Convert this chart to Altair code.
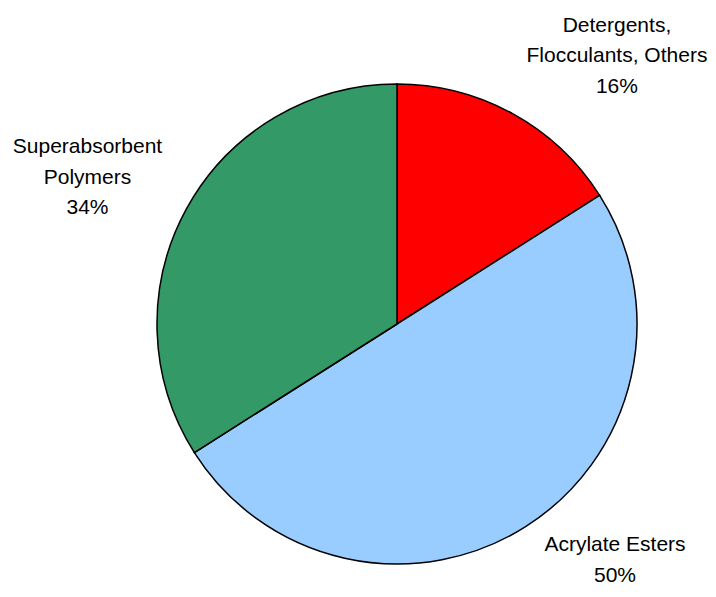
import altair as alt
import pandas as pd

categories = ["Detergents, Flocculants, Others", "Acrylate Esters", "Superabsorbent Polymers"]
label_lines = ["Detergents,\nFlocculants, Others", "Acrylate Esters", "Superabsorbent\nPolymers"]
shares = [16, 50, 34]
colors = ["#FF0000", "#99CCFF", "#339966"]

df = pd.DataFrame({
    "category": categories,
    "value": shares,
    "idx": list(range(len(categories))),
    "label": [f"{l}\n{v}%" for l, v in zip(label_lines, shares)],
})

CX, CY = 389, 316
R = 240

base = alt.Chart(df).encode(
    theta=alt.Theta("value:Q", stack=True),
    order=alt.Order("idx:Q"),
    x=alt.value(CX),
    y=alt.value(CY),
)

arcs = base.mark_arc(outerRadius=R, stroke="black", strokeWidth=1.5).encode(
    color=alt.Color("category:N", scale=alt.Scale(domain=categories, range=colors), legend=None),
)

# (radius, dx, dy) of each label's first line, relative to its slice midpoint
label_offsets = {
    categories[0]: (305, 73, -31),
    categories[1]: (293, 61, -26),
    categories[2]: (303, -44, -31),
}

layers = [arcs]
for cat in categories:
    r, dx, dy = label_offsets[cat]
    layers.append(
        base.mark_text(
            radius=r, dx=dx, dy=dy, font="Liberation Sans", fontSize=21,
            lineHeight=30.5, lineBreak="\n", align="center", baseline="middle", color="black",
        ).encode(
            text=alt.condition(alt.datum.category == cat, alt.Text("label:N"), alt.value("")),
        )
    )

chart = alt.layer(*layers).properties(
    width=700, height=581, autosize=alt.AutoSizeParams(type="none"), padding=0,
).configure_view(stroke=None)

chart.save("out.html", embed_options={"renderer": "svg", "actions": False})
